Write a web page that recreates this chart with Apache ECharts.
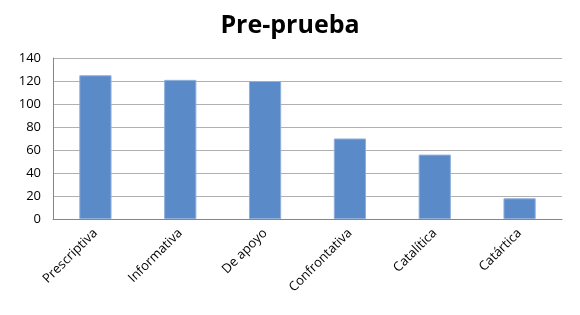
<!DOCTYPE html>
<html>
<head>
<meta charset="utf-8">
<script src="https://cdn.jsdelivr.net/npm/echarts@6/dist/echarts.min.js"></script>
<style>
  html, body { margin: 0; padding: 0; background: #fff; }
  #main { width: 580px; height: 315px; }
</style>
</head>
<body>
<div id="main"></div>
<script>
const categories = ['Prescriptiva', 'Informativa', 'De apoyo', 'Confrontativa', 'Catalítica', 'Catártica'];
const values = [125, 121, 120, 70, 56, 18];
const yTicks = [0, 140, 20];  // min, max, interval

echarts.init(document.getElementById('main')).setOption({
  animation: false,
  title: {
    text: 'Pre-prueba',
    left: 'center',
    top: 8,
    textStyle: { fontFamily: 'Open Sans', fontSize: 25, fontWeight: 'bold', color: '#000' }
  },
  grid: { left: 53, right: 18, top: 58, bottom: 96 },
  xAxis: {
    type: 'category',
    data: categories,
    axisLine: { lineStyle: { color: '#868686' } },
    axisTick: { show: false },
    axisLabel: {
      rotate: 45,
      interval: 0,
      margin: 12,
      fontFamily: 'Open Sans',
      fontSize: 13,
      color: '#000'
    }
  },
  yAxis: {
    type: 'value',
    min: yTicks[0],
    max: yTicks[1],
    interval: yTicks[2],
    axisLine: { show: true, lineStyle: { color: '#868686' } },
    axisTick: { show: false },
    splitLine: { lineStyle: { color: '#b0b0b0' } },
    axisLabel: { fontFamily: 'Open Sans', fontSize: 13, color: '#000', margin: 12 }
  },
  series: [{
    type: 'bar',
    data: values,
    barWidth: '38%',
    itemStyle: { color: '#5a8bc8', borderColor: '#8fb0dc', borderWidth: 1 }
  }]
});
</script>
</body>
</html>
